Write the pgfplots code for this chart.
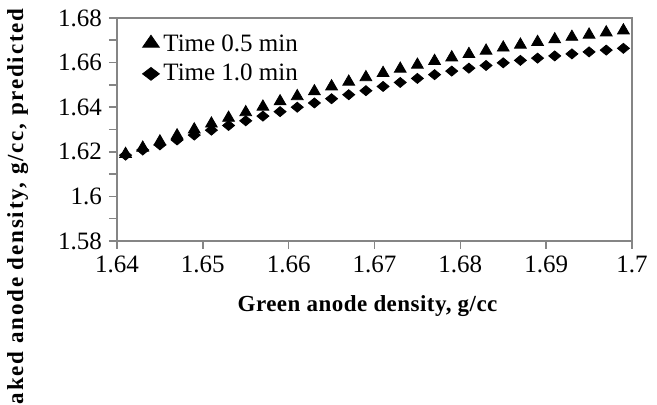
\documentclass[border=0pt]{standalone}
\usepackage{fontspec}
\setmainfont{Liberation Serif}
\usepackage{pgfplots}
\usepackage{pgfplotstable}
\pgfplotsset{compat=1.18}
\definecolor{axgray}{HTML}{858585}
\pgfplotstableread{
x      t05     t10
1.641  1.6190  1.6185
1.643  1.6218  1.6208
1.645  1.6246  1.6231
1.647  1.6273  1.6253
1.649  1.6300  1.6275
1.651  1.6326  1.6297
1.653  1.6352  1.6318
1.655  1.6377  1.6339
1.657  1.6402  1.6360
1.659  1.6426  1.6380
1.661  1.6449  1.6400
1.663  1.6471  1.6419
1.665  1.6493  1.6438
1.667  1.6514  1.6456
1.669  1.6534  1.6474
1.671  1.6553  1.6493
1.673  1.6572  1.6511
1.675  1.6590  1.6529
1.677  1.6607  1.6546
1.679  1.6623  1.6562
1.681  1.6638  1.6575
1.683  1.6653  1.6587
1.685  1.6667  1.6599
1.687  1.6680  1.6610
1.689  1.6692  1.6620
1.691  1.6704  1.6630
1.693  1.6715  1.6639
1.695  1.6725  1.6648
1.697  1.6735  1.6656
1.699  1.6744  1.6664
}\datatable
\begin{document}
\begin{tikzpicture}
\begin{scope}
\clip (-58.5pt,-82pt) rectangle (270pt,120.5pt);
\begin{axis}[
  at={(0,0)}, anchor=south west,
  scale only axis, width=257.5pt, height=111.5pt,
  xmin=1.64, xmax=1.7, ymin=1.58, ymax=1.68,
  xtick={1.64,1.65,1.66,1.67,1.68,1.69,1.7},
  ytick={1.58,1.6,1.62,1.64,1.66,1.68},
  minor ytick={1.59,1.61,1.63,1.65,1.67},
  scaled ticks=false,
  /pgf/number format/assume math mode=true,
  xticklabel style={/pgf/number format/fixed, font=\fontsize{12.5}{14}\selectfont},
  yticklabel style={/pgf/number format/fixed, font=\fontsize{12.5}{14}\selectfont},
  tick align=outside, tick pos=left,
  major tick length=4pt, minor tick length=4pt,
  axis line style={axgray, line width=0.8pt},
  every tick/.style={axgray, line width=0.8pt},
  xlabel={\addfontfeature{LetterSpace=2}\textbf{Green anode density, g/cc}},
  xlabel style={at={(axis description cs:0.487,0)}, anchor=north, yshift=-23.5pt, font=\fontsize{11.5}{13}\selectfont},
  ylabel={\addfontfeature{LetterSpace=8}\textbf{Baked anode density, g/cc, predicted\rlap{ by ANN}}},
  ylabel style={at={(axis description cs:-0.1825,1.045)}, anchor=base east, inner sep=0pt, rotate=0, font=\fontsize{11.5}{13}\selectfont},
  legend style={draw=none, fill=none, at={(axis description cs:0.045,0.955)}, anchor=north west, font=\fontsize{12.5}{14}\selectfont, row sep=1pt, inner sep=1pt},
  legend cell align=left,
]
\addplot[only marks, mark=triangle*, mark size=3.4pt, black,
  legend image code/.code={\draw[black, mark=triangle*, mark size=4pt, mark options={xscale=1.2}] plot coordinates {(0.2cm,0.5pt)};}]
  table[x=x, y=t05] {\datatable};
\addlegendentry{Time 0.5 min}
\addplot[only marks, mark=diamond*, mark size=2.5pt, black, mark options={xscale=1.6},
  legend image code/.code={\draw[black, mark=diamond*, mark size=3.2pt, mark options={xscale=1.75}] plot coordinates {(0.2cm,0pt)};}]
  table[x=x, y=t10] {\datatable};
\addlegendentry{Time 1.0 min}
\end{axis}
\end{scope}
\pgfresetboundingbox
\path[use as bounding box] (-58.5pt,-82pt) rectangle (270pt,120.5pt);
\end{tikzpicture}
\end{document}
